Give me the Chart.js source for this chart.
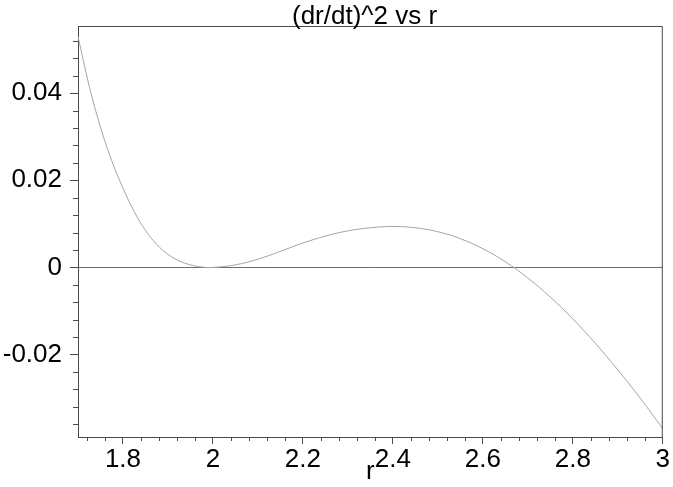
<!DOCTYPE html>
<html>
<head>
<meta charset="utf-8">
<script src="https://cdn.jsdelivr.net/npm/chart.js@4.4.0/dist/chart.umd.min.js"></script>
<style>
  html, body { margin: 0; padding: 0; background: #fff; }
  #wrap { width: 673px; height: 487px; }
</style>
</head>
<body>
<div id="wrap"><canvas id="plot"></canvas></div>
<script>
// values
const rValues = [1.70, 1.725, 1.75, 1.775, 1.80, 1.825, 1.85, 1.875, 1.90, 1.925, 1.95, 1.975, 2.00,
                 2.05, 2.10, 2.15, 2.20, 2.25, 2.30, 2.35, 2.40, 2.45, 2.50, 2.55, 2.60, 2.65,
                 2.70, 2.75, 2.80, 2.85, 2.90, 2.95, 3.00];
const dr2Values = [0.0530, 0.0416, 0.0322, 0.0245, 0.0182, 0.0128, 0.0085, 0.0053, 0.0030, 0.0015, 0.0006, 0.0001, 0.0000,
                   0.0006, 0.0019, 0.0037, 0.0056, 0.0072, 0.0084, 0.0091, 0.0094, 0.0091, 0.0082, 0.0066, 0.0043, 0.0013,
                   -0.0024, -0.0068, -0.0118, -0.0174, -0.0235, -0.0300, -0.0370];
const xTickValues = [1.8, 2, 2.2, 2.4, 2.6, 2.8, 3];
const yTickValues = [-0.02, 0, 0.02, 0.04];
const titleText = '(dr/dt)^2 vs r';
const xLabel = 'r';

const frameColor = '#4a4a4a';
const zeroColor = '#6e6e6e';
const curveColor = '#a4a4a4';
const font = { family: 'Liberation Sans', size: 26, lineHeight: 1 };

const fmt = (v) => String(Math.round(v * 10000) / 10000);

// top/right edges of the box, minor ticks and the title
const framePlugin = {
    id: 'frame',
    afterDraw(chart) {
        const { ctx, chartArea: a, scales: { x, y } } = chart;
        ctx.save();
        ctx.strokeStyle = frameColor;
        ctx.lineWidth = 1;
        ctx.beginPath();
        ctx.moveTo(a.left, a.top + 0.5);
        ctx.lineTo(a.right - 0.5, a.top + 0.5);
        ctx.lineTo(a.right - 0.5, a.bottom);
        for (let i = 43; i <= 75; i++) {
            if (i % 5 === 0) continue;
            const px = Math.round(x.getPixelForValue(i * 0.04)) + 0.5;
            ctx.moveTo(px, a.bottom);
            ctx.lineTo(px, a.bottom + 4);
        }
        for (let i = -9; i <= 13; i++) {
            if (i % 5 === 0) continue;
            const py = Math.round(y.getPixelForValue(i * 0.004)) + 0.5;
            ctx.moveTo(a.left - 5, py);
            ctx.lineTo(a.left, py);
        }
        ctx.stroke();

        ctx.fillStyle = '#000';
        ctx.font = '26px "Liberation Sans"';
        ctx.textAlign = 'left';
        ctx.textBaseline = 'alphabetic';
        ctx.fillText(titleText, 292, 24);
        ctx.restore();
    }
};

new Chart(document.getElementById('plot'), {
    type: 'line',
    data: {
        datasets: [{
            data: rValues.map((r, i) => ({ x: r, y: dr2Values[i] })),
            borderColor: curveColor,
            borderWidth: 1,
            pointRadius: 0,
            fill: false,
            tension: 0.4
        }]
    },
    options: {
        animation: false,
        responsive: true,
        maintainAspectRatio: false,
        layout: { padding: { top: 26, right: 5, left: 0, bottom: 0 } },
        plugins: {
            legend: { display: false },
            tooltip: { enabled: false },
            title: { display: false }
        },
        scales: {
            x: {
                type: 'linear',
                min: 1.7,
                max: 3,
                afterBuildTicks: (s) => { s.ticks = xTickValues.map(v => ({ value: v })); },
                afterFit: (s) => { s.height = 50; },
                grid: { drawOnChartArea: false, drawTicks: true, tickLength: 7, tickColor: frameColor },
                border: { display: true, color: frameColor, width: 1 },
                ticks: { font, color: '#000', padding: 3, maxRotation: 0, autoSkip: false, callback: fmt },
                title: { display: true, text: xLabel, font, color: '#000', padding: { top: 0, bottom: 2 } }
            },
            y: {
                type: 'linear',
                min: -0.0389,
                max: 0.0554,
                afterBuildTicks: (s) => { s.ticks = yTickValues.map(v => ({ value: v })); },
                afterFit: (s) => { s.width = 78; },
                grid: {
                    drawOnChartArea: true,
                    drawTicks: true,
                    tickLength: 8,
                    tickColor: frameColor,
                    color: (c) => (c.tick && c.tick.value === 0 ? zeroColor : 'rgba(0,0,0,0)')
                },
                border: { display: true, color: frameColor, width: 1 },
                ticks: { font, color: '#000', padding: 8, autoSkip: false, callback: fmt }
            }
        }
    },
    plugins: [framePlugin]
});
</script>
</body>
</html>
